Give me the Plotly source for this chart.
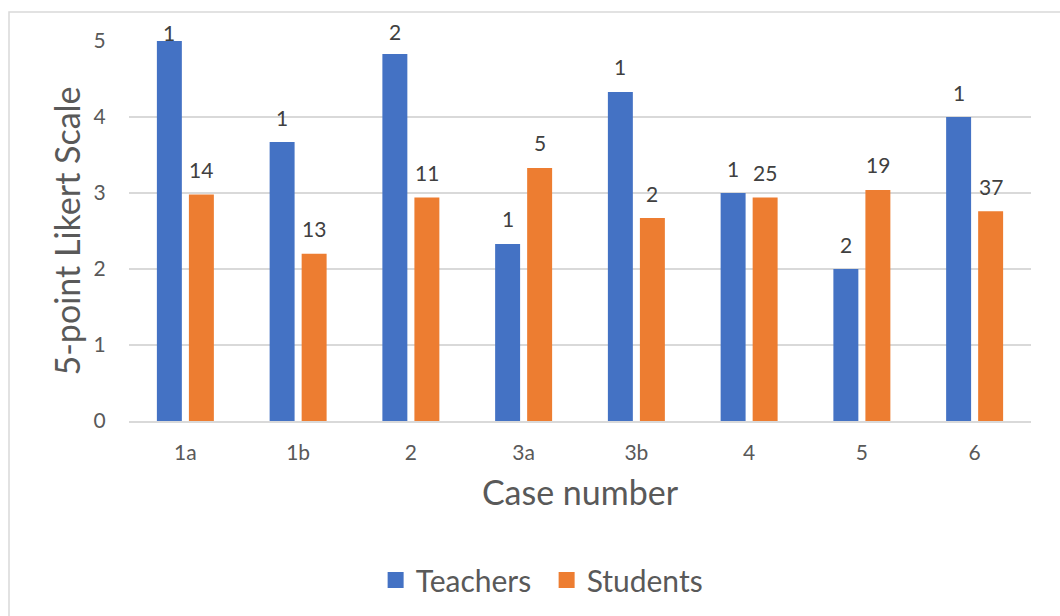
import plotly.graph_objects as go

# Case ratings on a 5-point Likert scale, with respondent counts per bar
cases = ["1a", "1b", "2", "3a", "3b", "4", "5", "6"]
teachers_mean = [5.0, 3.67, 4.83, 2.33, 4.33, 3.0, 2.0, 4.0]
students_mean = [2.98, 2.20, 2.94, 3.33, 2.67, 2.94, 3.04, 2.76]
teachers_n = [1, 1, 2, 1, 1, 1, 2, 1]
students_n = [14, 13, 11, 5, 2, 25, 19, 37]

BLUE = "#4472C4"
ORANGE = "#ED7D31"
FONT = "Lato"
Y_MAX = 5

fig = go.Figure()
series = (("Teachers", teachers_mean, BLUE), ("Students", students_mean, ORANGE))
for name, means, color in series:
    fig.add_trace(go.Bar(name=name, x=cases, y=means, showlegend=False,
                         marker=dict(color=color, line=dict(width=0))))
# Legend entries with larger square swatches
for name, means, color in series:
    fig.add_trace(go.Scatter(name=name, x=[None], y=[None], mode="markers",
                             marker=dict(symbol="square", size=17, color=color)))

# Count labels above each bar; kept inside the chart frame near the top
plot_h = 616 - 41 - 194
px_per_unit = plot_h / Y_MAX
annotations = []
for means, counts, shift in ((teachers_mean, teachers_n, -16),
                             (students_mean, students_n, 16)):
    for i, (v, n) in enumerate(zip(means, counts)):
        ys = min(25, 9 + (Y_MAX - v) * px_per_unit)
        annotations.append(dict(x=i, y=v, text=str(n), showarrow=False,
                                xshift=shift, yshift=ys, yanchor="middle",
                                font=dict(family=FONT, size=21, color="#404040")))

fig.update_layout(
    width=1060, height=616,
    margin=dict(l=129, r=29, t=41, b=194),
    paper_bgcolor="white", plot_bgcolor="white",
    barmode="group", bargap=0.432, bargroupgap=0.22,
    font=dict(family=FONT, color="#595959"),
    annotations=annotations,
    showlegend=True,
    legend=dict(orientation="h", x=0.463, xanchor="center", y=-0.415,
                yanchor="middle", font=dict(family=FONT, size=30, color="#595959"),
                itemwidth=30, traceorder="normal", itemsizing="trace",
                entrywidth=126, entrywidthmode="pixels"),
    shapes=[dict(type="rect", xref="paper", yref="paper",
                 x0=(9 - 129) / 902, x1=1.2, y0=-1.0, y1=(422 - 12) / 381,
                 line=dict(color="#d9d9d9", width=1.5), layer="below")],
)
fig.update_xaxes(
    type="category", range=[-0.5, len(cases) - 0.5],
    showgrid=False, showline=True, linecolor="#d9d9d9", linewidth=1.5,
    ticks="outside", ticklen=12, tickcolor="rgba(0,0,0,0)",
    tickfont=dict(family=FONT, size=21, color="#595959"),
    title=dict(text="Case number", font=dict(family=FONT, size=34, color="#595959"),
               standoff=18),
)
fig.update_yaxes(
    range=[0, Y_MAX], dtick=1, showgrid=True, gridcolor="#d9d9d9", gridwidth=1.5,
    zeroline=False, showline=False,
    ticks="outside", ticklen=18, tickcolor="rgba(0,0,0,0)",
    tickfont=dict(family=FONT, size=21, color="#595959"),
    title=dict(text="5-point Likert Scale", font=dict(family=FONT, size=34, color="#595959"),
               standoff=2),
)

fig.write_html("out.html")
